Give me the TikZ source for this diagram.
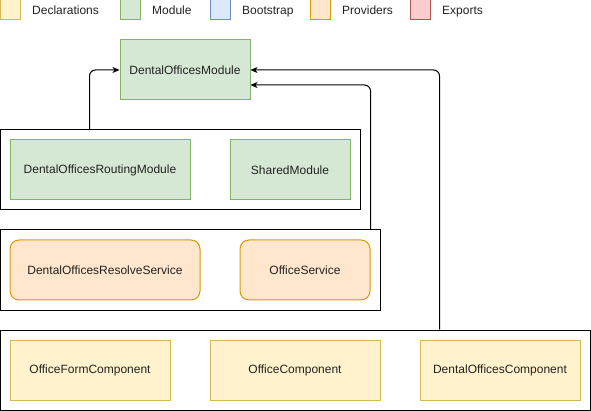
\documentclass[tikz,border=0pt]{standalone}
\usepackage{fontspec}
\setmainfont{Liberation Sans}
\usepackage{xcolor}
\definecolor{DeclFill}{HTML}{FFF2CC}
\definecolor{DeclLine}{HTML}{D6B656}
\definecolor{ModFill}{HTML}{D5E8D4}
\definecolor{ModLine}{HTML}{82B366}
\definecolor{BootFill}{HTML}{DAE8FC}
\definecolor{BootLine}{HTML}{6C8EBF}
\definecolor{ProvFill}{HTML}{FFE6CC}
\definecolor{ProvLine}{HTML}{D79B00}
\definecolor{ExpFill}{HTML}{F8CECC}
\definecolor{ExpLine}{HTML}{B85450}
\definecolor{TextGray}{HTML}{222222}
\usetikzlibrary{calc, positioning, arrows.meta}

\begin{document}
\begin{tikzpicture}[
        x=1pt, y=-1pt,
        font=\fontsize{12}{14}\selectfont, text=TextGray,
        >={Triangle[length=7pt, width=6pt, inset=2pt]},
        % Styles
        swatch/.style={rectangle, draw, line width=1pt, minimum size=20pt, inner sep=0pt},
        legtext/.style={anchor=base west, inner sep=0pt},
        decl/.style={rectangle, draw=DeclLine, fill=DeclFill, line width=1pt, minimum height=60pt, align=center},
        module/.style={rectangle, draw=ModLine, fill=ModFill, line width=1pt, minimum height=60pt, align=center},
        provider/.style={rectangle, rounded corners=9pt, draw=ProvLine, fill=ProvFill, line width=1pt, minimum height=60pt, align=center},
        group/.style={rectangle, draw=black, line width=1pt, minimum height=80pt, inner sep=0pt},
        import_arrow/.style={->, black, line width=1pt, rounded corners=6pt}
    ]
    \useasboundingbox (0,0) rectangle (591,411);

    % 1. LEGEND
    \node[swatch, draw=DeclLine, fill=DeclFill] (keydecl) at (10,10) {};
    \node[legtext] at (32,14.5) {Declarations};
    \node[swatch, draw=ModLine, fill=ModFill] (keymod) at (130,10) {};
    \node[legtext] at (152,14.5) {Module};
    \node[swatch, draw=BootLine, fill=BootFill] (keyboot) at (220,10) {};
    \node[legtext] at (242,14.5) {Bootstrap};
    \node[swatch, draw=ProvLine, fill=ProvFill] (keyprov) at (320,10) {};
    \node[legtext] at (342,14.5) {Providers};
    \node[swatch, draw=ExpLine, fill=ExpFill] (keyexp) at (420,10) {};
    \node[legtext] at (442,14.5) {Exports};

    % 2. THE MODULE
    \node[module, minimum width=130pt] (dentalmod) at (185,70) {DentalOfficesModule};

    % 3. IMPORTS
    \node[group, minimum width=360pt] (imports) at (180,170) {};
    \node[module, minimum width=180pt] (routing) at (100,170) {DentalOfficesRoutingModule};
    \node[module, minimum width=120pt] (shared) at (290,170) {SharedModule};

    % 4. PROVIDERS
    \node[group, minimum width=380pt] (providers) at (190,270) {};
    \node[provider, minimum width=190pt] (resolve) at (105,270) {DentalOfficesResolveService};
    \node[provider, minimum width=130pt] (officesrv) at (305,270) {OfficeService};

    % 5. DECLARATIONS
    \node[group, minimum width=590pt] (declarations) at (295,370) {};
    \node[decl, minimum width=160pt] (formcomp) at (90,370) {OfficeFormComponent};
    \node[decl, minimum width=170pt] (officecomp) at (295,370) {OfficeComponent};
    \node[decl, minimum width=160pt] (dentalcomp) at (500,370) {DentalOfficesComponent};

    % 6. CONNECTORS
    \coordinate (impout) at ($(imports.north west)+(90,0)$);
    \coordinate (provout) at ($(providers.north east)+(-10,0)$);
    \coordinate (declout) at ($(declarations.north west)+(440,0)$);
    \draw[import_arrow] (impout) |- (dentalmod.west);
    \draw[import_arrow] (provout) |- ($(dentalmod.east)+(0,15)$);
    \draw[import_arrow] (declout) |- (dentalmod.east);
\end{tikzpicture}
\end{document}
